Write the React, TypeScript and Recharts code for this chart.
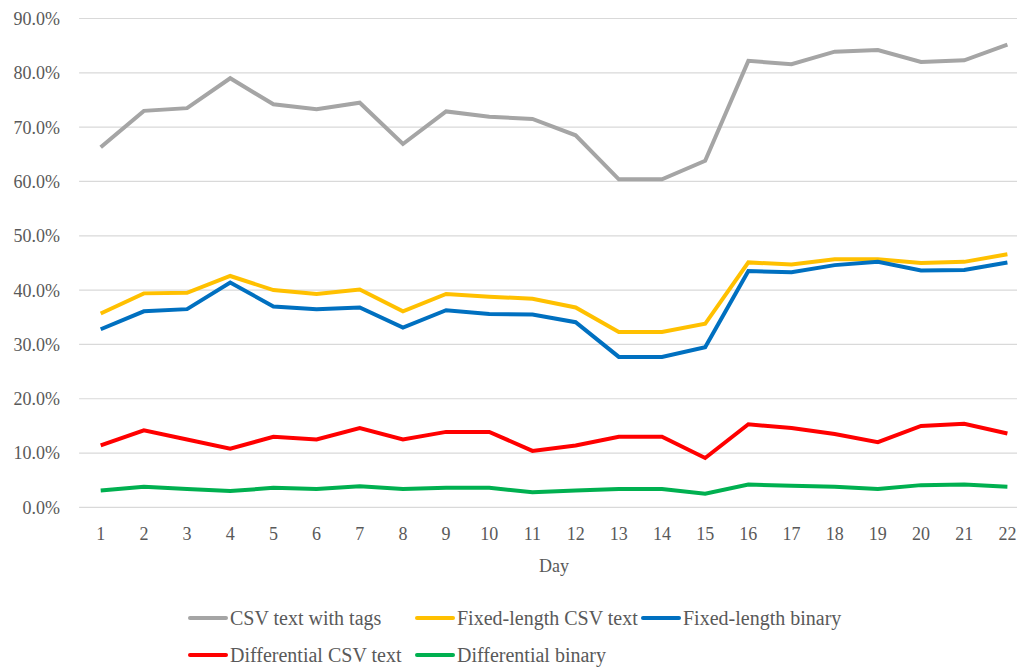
import { LineChart, Line, XAxis, YAxis, CartesianGrid } from "recharts";

const days = ["1", "2", "3", "4", "5", "6", "7", "8", "9", "10", "11", "12", "13", "14", "15", "16", "17", "18", "19", "20", "21", "22"];

const csvWithTags = [66.3, 73.0, 73.5, 79.0, 74.2, 73.3, 74.5, 66.9, 72.9, 71.9, 71.5, 68.5, 60.4, 60.4, 63.8, 82.2, 81.6, 83.9, 84.2, 82.0, 82.3, 85.2];
const fixedCsv = [35.7, 39.4, 39.5, 42.6, 40.0, 39.3, 40.1, 36.1, 39.3, 38.8, 38.4, 36.8, 32.3, 32.3, 33.8, 45.1, 44.7, 45.7, 45.7, 45.0, 45.2, 46.6];
const fixedBinary = [32.8, 36.1, 36.5, 41.4, 37.0, 36.5, 36.8, 33.1, 36.3, 35.6, 35.5, 34.1, 27.7, 27.7, 29.5, 43.5, 43.3, 44.6, 45.2, 43.6, 43.7, 45.1];
const diffCsv = [11.4, 14.2, 12.5, 10.8, 13.0, 12.5, 14.6, 12.5, 13.9, 13.9, 10.4, 11.4, 13.0, 13.0, 9.1, 15.3, 14.6, 13.5, 12.0, 15.0, 15.4, 13.6];
const diffBinary = [3.1, 3.8, 3.4, 3.0, 3.6, 3.4, 3.9, 3.4, 3.6, 3.6, 2.8, 3.1, 3.4, 3.4, 2.5, 4.2, 4.0, 3.8, 3.4, 4.1, 4.2, 3.8];

const yTicks = [0, 10, 20, 30, 40, 50, 60, 70, 80, 90];

const series = [
  { key: "tags", name: "CSV text with tags", color: "#A5A5A5", values: csvWithTags },
  { key: "fixedCsv", name: "Fixed-length CSV text", color: "#FFC000", values: fixedCsv },
  { key: "fixedBin", name: "Fixed-length binary", color: "#0070C0", values: fixedBinary },
  { key: "diffCsv", name: "Differential CSV text", color: "#FF0000", values: diffCsv },
  { key: "diffBin", name: "Differential binary", color: "#00B050", values: diffBinary },
];

const data = days.map((d, i) => {
  const row: Record<string, string | number> = { day: d };
  series.forEach(s => { row[s.key] = s.values[i]; });
  return row;
});

const font = '"Liberation Serif", "Times New Roman", serif';

function LegendItem({ name, color, width }: { name: string; color: string; width?: number }) {
  return (
    <div style={{ display: "flex", alignItems: "center", width }}>
      <span style={{ width: 40, height: 4, background: color, borderRadius: 2, marginRight: 2 }} />
      <span>{name}</span>
    </div>
  );
}

export default function App() {
  return (
    <div style={{ position: "absolute", left: 0, top: 0, width: 1017, height: 667, overflow: "hidden", background: "#fff", fontFamily: font }}>
      <LineChart width={1029} height={667} data={data} margin={{ top: 18.5, right: 0, left: 0, bottom: 89.6 }}>
        <CartesianGrid vertical={false} stroke="#D9D9D9" strokeWidth={1.2} />
        <XAxis
          dataKey="day"
          padding={{ left: 21.6, right: 21.6 }}
          axisLine={false}
          tickLine={false}
          tickSize={0}
          tickMargin={20}
          height={70}
          interval={0}
          tick={{ fill: "#595959", fontSize: 18, fontFamily: font }}
          label={{ value: "Day", position: "insideBottom", offset: 5.7, fill: "#595959", fontSize: 18, fontFamily: font }}
        />
        <YAxis
          width={79.1}
          domain={[0, 90]}
          ticks={yTicks}
          axisLine={false}
          tickLine={false}
          tickSize={0}
          tickMargin={19}
          tickFormatter={(v: number) => `${v.toFixed(1)}%`}
          tick={{ fill: "#595959", fontSize: 18, fontFamily: font }}
        />
        {series.map(s => (
          <Line
            key={s.key}
            dataKey={s.key}
            name={s.name}
            stroke={s.color}
            strokeWidth={4}
            dot={false}
            type="linear"
            isAnimationActive={false}
          />
        ))}
      </LineChart>
      <div style={{ position: "absolute", left: 188, top: 605, fontSize: 20, color: "#595959", lineHeight: "26px" }}>
        <div style={{ display: "flex" }}>
          <LegendItem name={series[0].name} color={series[0].color} width={227} />
          <LegendItem name={series[1].name} color={series[1].color} width={226} />
          <LegendItem name={series[2].name} color={series[2].color} />
        </div>
        <div style={{ display: "flex", marginTop: 11 }}>
          <LegendItem name={series[3].name} color={series[3].color} width={227} />
          <LegendItem name={series[4].name} color={series[4].color} width={226} />
        </div>
      </div>
    </div>
  );
}
